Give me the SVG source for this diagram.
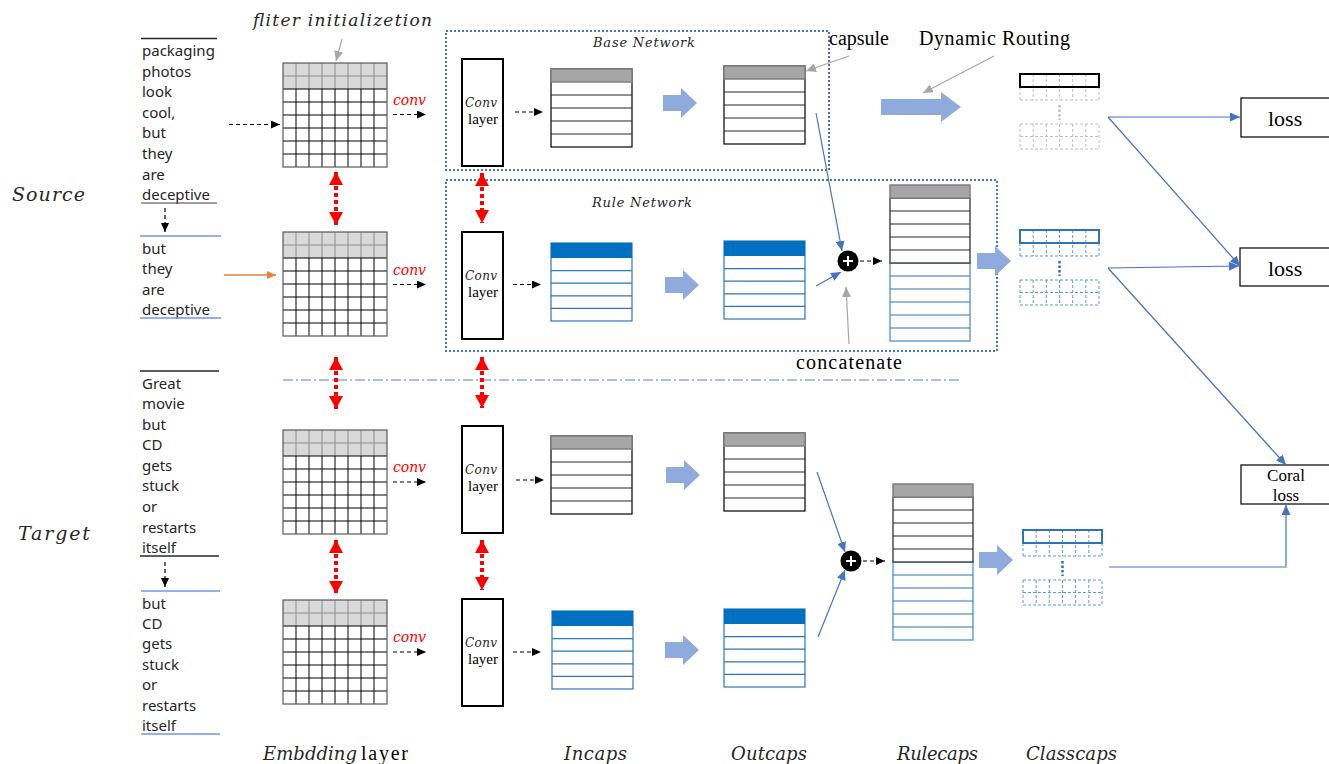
<svg xmlns="http://www.w3.org/2000/svg" width="1329" height="764" viewBox="0 0 1329 764">
<style>
.w{font-family:'Noto Sans','Liberation Sans',sans-serif;font-size:15px;fill:#262626}
.mi{font-family:'DejaVu Serif','Liberation Serif',serif;font-style:italic;fill:#262626}
.sr{font-family:'Liberation Serif','DejaVu Serif',serif;fill:#000}
.cv{font-family:'DejaVu Serif','Liberation Serif',serif;font-style:italic;font-size:14px;fill:#FF0000}
.dash{stroke:#000;stroke-width:1.2;stroke-dasharray:4 3;fill:none}
.red{stroke:#FF0000;stroke-width:4;stroke-dasharray:4 3;fill:none}
.blu{stroke:#4472C4;stroke-width:1.2;fill:none}
.gry{stroke:#A6A6A6;stroke-width:1.2;fill:none}
.box{fill:#fff;stroke:#000;stroke-width:2}
.net{fill:none;stroke:#4472C4;stroke-width:2;stroke-dasharray:2 2}
.fat{fill:#8FAADC}
.ul{stroke:#262626;stroke-width:1.5}
.ub{stroke:#6F97D8;stroke-width:1.5}
</style>
<defs>
<marker id="mK" markerUnits="userSpaceOnUse" markerWidth="9" markerHeight="8" refX="9" refY="4" orient="auto"><path d="M0 0L9 4L0 8Z" fill="#000"/></marker>
<marker id="mB" markerUnits="userSpaceOnUse" markerWidth="10" markerHeight="9" refX="10" refY="4.5" orient="auto"><path d="M0 0L10 4.5L0 9Z" fill="#4472C4"/></marker>
<marker id="mG" markerUnits="userSpaceOnUse" markerWidth="10" markerHeight="9" refX="10" refY="4.5" orient="auto"><path d="M0 0L10 4.5L0 9Z" fill="#A6A6A6"/></marker>
<marker id="mO" markerUnits="userSpaceOnUse" markerWidth="9" markerHeight="8" refX="9" refY="4" orient="auto"><path d="M0 0L9 4L0 8Z" fill="#ED7D31"/></marker>
<marker id="mR" markerUnits="userSpaceOnUse" markerWidth="13" markerHeight="14" refX="13" refY="7" orient="auto-start-reverse"><path d="M0 0L13 7L0 14Z" fill="#FF0000"/></marker>
<g id="grid">
<rect x="0" y="0" width="104" height="26" fill="#D9D9D9"/>
<path d="M0 13H104M13 0V26M26 0V26M39 0V26M52 0V26M65 0V26M78 0V26M91 0V26" stroke="#8C8C8C" fill="none"/>
<path d="M0 26H104M0 39H104M0 52H104M0 65H104M0 78H104M0 91H104M13 26V104M26 26V104M39 26V104M52 26V104M65 26V104M78 26V104M91 26V104" stroke="#000" fill="none"/>
<rect x="0" y="0" width="104" height="104" fill="none" stroke="#595959" stroke-width="1.2"/>
</g>
<g id="capK">
<rect x="0" y="0" width="81" height="78" fill="#fff" stroke="#000" stroke-width="1.2"/>
<rect x="0" y="0" width="81" height="13" fill="#A6A6A6" stroke="#7F7F7F" stroke-width="1.5"/>
<path d="M0 26H81M0 39H81M0 52H81M0 65H81" stroke="#262626" stroke-width="1.2"/>
</g>
<g id="capU">
<rect x="0" y="0" width="81" height="78" fill="#fff" stroke="#2E75B6" stroke-width="1.2"/>
<path d="M0 27.6H81M0 40.2H81M0 52.8H81M0 65.4H81" stroke="#2E75B6" stroke-width="1.2"/>
<rect x="0" y="0" width="81" height="15" fill="#0070C0"/>
</g>
<g id="rule">
<rect x="0" y="78" width="80" height="78" fill="#fff" stroke="#5B9BD5" stroke-width="1.4"/>
<path d="M0 91H80M0 104H80M0 117H80M0 130H80M0 143H80" stroke="#2E75B6" stroke-width="1.2"/>
<rect x="0" y="13" width="80" height="65" fill="#fff" stroke="#404040" stroke-width="1.4"/>
<path d="M0 26H80M0 39H80M0 52H80M0 65H80" stroke="#262626" stroke-width="1.2"/>
<rect x="0" y="0" width="80" height="13" fill="#A6A6A6" stroke="#7F7F7F" stroke-width="1.5"/>
</g>
<g id="clsK">
<path d="M13.17 0V26M26.33 0V26M39.5 0V26M52.67 0V26M65.83 0V26M0 13V26M79 13V26M0 26H79" stroke="#BFBFBF" stroke-dasharray="3 2" fill="none"/>
<rect x="0" y="0" width="79" height="13" fill="none" stroke="#000" stroke-width="2"/>
<path d="M39.5 31V46" stroke="#BFBFBF" stroke-width="2.5" stroke-dasharray="2.5 2"/>
<path d="M0 50H79V75H0ZM0 62.5H79M13.17 50V75M26.33 50V75M39.5 50V75M52.67 50V75M65.83 50V75" stroke="#BFBFBF" stroke-dasharray="3 2" fill="none"/>
</g>
<g id="clsU">
<path d="M13.17 0V26M26.33 0V26M39.5 0V26M52.67 0V26M65.83 0V26M0 13V26M79 13V26M0 26H79" stroke="#5B9BD5" stroke-dasharray="3 2" fill="none"/>
<rect x="0" y="0" width="79" height="13" fill="none" stroke="#2E75B6" stroke-width="2"/>
<path d="M39.5 31V46" stroke="#2E75B6" stroke-width="2.5" stroke-dasharray="2.5 2"/>
<path d="M0 50H79V75H0ZM0 62.5H79M13.17 50V75M26.33 50V75M39.5 50V75M52.67 50V75M65.83 50V75" stroke="#5B9BD5" stroke-dasharray="3 2" fill="none"/>
</g>
<path id="fatS" d="M0 -8H18V-15L34 0L18 15V8H0Z"/>
<g id="plus"><circle r="10.5" fill="#000"/><path d="M-5 0H5M0 -5V5" stroke="#fff" stroke-width="2"/></g>
</defs>
<rect width="1329" height="764" fill="#fff"/>

<!-- networks frames -->
<g id="base-network">
<rect class="net" x="446" y="31" width="383" height="139"/>
<text class="mi" x="593" y="47" font-size="13" textLength="102" lengthAdjust="spacing">Base Network</text>
</g>
<g id="rule-network">
<rect class="net" x="446" y="180" width="551" height="171"/>
<text class="mi" x="592" y="207" font-size="13" textLength="100" lengthAdjust="spacing">Rule Network</text>
</g>
<path d="M283 380H960" stroke="#8FAADC" stroke-width="1.5" stroke-dasharray="10 3 2 3" fill="none"/>

<!-- labels -->
<g id="labels">
<text class="mi" x="253" y="26" font-size="17" textLength="179" lengthAdjust="spacing">fliter initializetion</text>
<text class="mi" x="12" y="201" font-size="19" textLength="73" lengthAdjust="spacing">Source</text>
<text class="mi" x="18" y="540" font-size="19" textLength="72" lengthAdjust="spacing">Target</text>
<text class="sr" x="829" y="45" font-size="20" textLength="60" lengthAdjust="spacing">capsule</text>
<text class="sr" x="919" y="45" font-size="20" textLength="151" lengthAdjust="spacing">Dynamic Routing</text>
<text class="sr" x="796" y="369" font-size="20" textLength="106" lengthAdjust="spacing">concatenate</text>
<text class="mi" x="263" y="760" font-size="18" textLength="94" lengthAdjust="spacing">Embdding</text>
<text class="sr" x="361" y="760" font-size="20" fill="#262626" textLength="47" lengthAdjust="spacing">layer</text>
<text class="mi" x="564" y="760" font-size="18" textLength="63" lengthAdjust="spacing">Incaps</text>
<text class="mi" x="731" y="760" font-size="18" textLength="76" lengthAdjust="spacing">Outcaps</text>
<text class="mi" x="897" y="760" font-size="18" textLength="81" lengthAdjust="spacing">Rulecaps</text>
<text class="mi" x="1026" y="760" font-size="18" textLength="91" lengthAdjust="spacing">Classcaps</text>
</g>

<!-- source sentence -->
<g id="src-sentence">
<line class="ul" x1="141" y1="38.5" x2="217" y2="38.5"/>
<text class="w" x="142" y="56">packaging</text>
<text class="w" x="142" y="77">photos</text>
<text class="w" x="142" y="97">look</text>
<text class="w" x="142" y="118">cool,</text>
<text class="w" x="142" y="138">but</text>
<text class="w" x="142" y="159">they</text>
<text class="w" x="142" y="180">are</text>
<text class="w" x="142" y="200">deceptive</text>
<line x1="141" y1="203" x2="217" y2="203" stroke="#404040" stroke-width="1.2"/>
</g>
<g id="src-rule">
<line class="ub" x1="140" y1="236" x2="221" y2="236"/>
<text class="w" x="142" y="254">but</text>
<text class="w" x="142" y="274">they</text>
<text class="w" x="142" y="295">are</text>
<text class="w" x="142" y="315">deceptive</text>
<line class="ub" x1="140" y1="318" x2="221" y2="318"/>
</g>
<g id="tgt-sentence">
<line class="ul" x1="140" y1="371" x2="219" y2="371"/>
<text class="w" x="142" y="389">Great</text>
<text class="w" x="142" y="409">movie</text>
<text class="w" x="142" y="430">but</text>
<text class="w" x="142" y="450">CD</text>
<text class="w" x="142" y="471">gets</text>
<text class="w" x="142" y="491">stuck</text>
<text class="w" x="142" y="512">or</text>
<text class="w" x="142" y="533">restarts</text>
<text class="w" x="142" y="553">itself</text>
<line class="ul" x1="140" y1="556" x2="219" y2="556"/>
</g>
<g id="tgt-rule">
<line class="ub" x1="141" y1="591" x2="220" y2="591"/>
<text class="w" x="142" y="609">but</text>
<text class="w" x="142" y="629">CD</text>
<text class="w" x="142" y="649">gets</text>
<text class="w" x="142" y="670">stuck</text>
<text class="w" x="142" y="690">or</text>
<text class="w" x="142" y="711">restarts</text>
<text class="w" x="142" y="731">itself</text>
<line class="ub" x1="141" y1="734" x2="220" y2="734"/>
</g>

<!-- embedding grids -->
<g id="emb-1"><use href="#grid" x="283" y="63"/></g>
<g id="emb-2"><use href="#grid" x="283" y="232"/></g>
<g id="emb-3"><use href="#grid" x="283" y="430"/></g>
<g id="emb-4"><use href="#grid" x="283" y="600"/></g>

<!-- conv labels -->
<g id="conv-labels">
<text class="cv" x="393" y="105" textLength="33" lengthAdjust="spacing">conv</text>
<text class="cv" x="393" y="275" textLength="33" lengthAdjust="spacing">conv</text>
<text class="cv" x="393" y="472" textLength="33" lengthAdjust="spacing">conv</text>
<text class="cv" x="393" y="642" textLength="33" lengthAdjust="spacing">conv</text>
</g>

<!-- conv layers -->
<g id="conv-1"><rect class="box" x="462" y="59" width="41" height="107"/><text class="mi" x="465" y="107" font-size="12" fill="#000" textLength="32" lengthAdjust="spacing">Conv</text><text class="sr" x="468" y="124" font-size="15">layer</text></g>
<g id="conv-2"><rect class="box" x="462" y="232" width="41" height="107"/><text class="mi" x="465" y="280" font-size="12" fill="#000" textLength="32" lengthAdjust="spacing">Conv</text><text class="sr" x="468" y="297" font-size="15">layer</text></g>
<g id="conv-3"><rect class="box" x="462" y="426" width="41" height="107"/><text class="mi" x="465" y="474" font-size="12" fill="#000" textLength="32" lengthAdjust="spacing">Conv</text><text class="sr" x="468" y="491" font-size="15">layer</text></g>
<g id="conv-4"><rect class="box" x="462" y="599" width="41" height="107"/><text class="mi" x="465" y="647" font-size="12" fill="#000" textLength="32" lengthAdjust="spacing">Conv</text><text class="sr" x="468" y="664" font-size="15">layer</text></g>

<!-- capsules -->
<g id="incaps-1"><use href="#capK" x="551" y="69"/></g>
<g id="outcaps-1"><use href="#capK" x="724" y="66"/></g>
<g id="incaps-2"><use href="#capU" x="551" y="243"/></g>
<g id="outcaps-2"><use href="#capU" x="724" y="241"/></g>
<g id="incaps-3"><use href="#capK" x="551" y="436"/></g>
<g id="outcaps-3"><use href="#capK" x="724" y="433"/></g>
<g id="incaps-4"><use href="#capU" x="552" y="611"/></g>
<g id="outcaps-4"><use href="#capU" x="724" y="609"/></g>
<g id="rulecaps-1"><use href="#rule" x="890" y="185"/></g>
<g id="rulecaps-2"><use href="#rule" x="893" y="484"/></g>
<g id="plus-1"><use href="#plus" x="848" y="261"/></g>
<g id="plus-2"><use href="#plus" x="851" y="561"/></g>
<g id="classcaps-1"><use href="#clsK" x="1020" y="74"/></g>
<g id="classcaps-2"><use href="#clsU" x="1020" y="230"/></g>
<g id="classcaps-3"><use href="#clsU" x="1023" y="530"/></g>

<!-- loss boxes -->
<g id="loss-1"><rect x="1241" y="98" width="92" height="39" fill="#fff" stroke="#000" stroke-width="1.2"/><text class="sr" x="1268" y="126" font-size="22">loss</text></g>
<g id="loss-2"><rect x="1240" y="248" width="93" height="38" fill="#fff" stroke="#000" stroke-width="1.2"/><text class="sr" x="1268" y="276" font-size="22">loss</text></g>
<g id="coral-loss"><rect x="1241" y="465" width="92" height="39" fill="#fff" stroke="#000" stroke-width="1.2"/><text class="sr" x="1286" y="481" font-size="17" text-anchor="middle">Coral</text><text class="sr" x="1286" y="501" font-size="17" text-anchor="middle">loss</text></g>

<!-- connectors -->
<g id="connectors">
<path class="dash" d="M229 124.5H280" marker-end="url(#mK)"/>
<path d="M224 275H276" stroke="#ED7D31" stroke-width="1.5" fill="none" marker-end="url(#mO)"/>
<path class="dash" d="M165 208V232" marker-end="url(#mK)"/>
<path class="dash" d="M165 562V587" marker-end="url(#mK)"/>
<path class="dash" d="M393 114.5H426" marker-end="url(#mK)"/>
<path class="dash" d="M393 284.5H426" marker-end="url(#mK)"/>
<path class="dash" d="M393 482H426" marker-end="url(#mK)"/>
<path class="dash" d="M393 652H426" marker-end="url(#mK)"/>
<path class="dash" d="M515 112H543" marker-end="url(#mK)"/>
<path class="dash" d="M513 284.5H541" marker-end="url(#mK)"/>
<path class="dash" d="M516 480H544" marker-end="url(#mK)"/>
<path class="dash" d="M513 652H541" marker-end="url(#mK)"/>
<path class="dash" d="M860 261H882" marker-end="url(#mK)"/>
<path class="dash" d="M863 561H885" marker-end="url(#mK)"/>
<path class="red" d="M336 172V225" marker-start="url(#mR)" marker-end="url(#mR)"/>
<path class="red" d="M336 357V409" marker-start="url(#mR)" marker-end="url(#mR)"/>
<path class="red" d="M336 540V594" marker-start="url(#mR)" marker-end="url(#mR)"/>
<path class="red" d="M482 173V223" marker-start="url(#mR)" marker-end="url(#mR)"/>
<path class="red" d="M482 357V408" marker-start="url(#mR)" marker-end="url(#mR)"/>
<path class="red" d="M482 540V590" marker-start="url(#mR)" marker-end="url(#mR)"/>
<use class="fat" href="#fatS" x="663" y="103"/>
<use class="fat" href="#fatS" x="665" y="285"/>
<use class="fat" href="#fatS" x="977" y="261"/>
<use class="fat" href="#fatS" x="666" y="475"/>
<use class="fat" href="#fatS" x="665" y="650"/>
<use class="fat" href="#fatS" x="979" y="560"/>
<path class="fat" d="M881 99H941V92L961 107L941 122V115H881Z"/>
<path class="gry" d="M342 39L336 61" marker-end="url(#mG)"/>
<path class="gry" d="M849 56L806 71" marker-end="url(#mG)"/>
<path class="gry" d="M994 56L923 93" marker-end="url(#mG)"/>
<path class="gry" d="M849 344L846 287" marker-end="url(#mG)"/>
<path class="blu" d="M816 113L842 251" marker-end="url(#mB)"/>
<path class="blu" d="M816 286L841 272" marker-end="url(#mB)"/>
<path class="blu" d="M817 472L845 552" marker-end="url(#mB)"/>
<path class="blu" d="M818 637L845 570" marker-end="url(#mB)"/>
<path class="blu" d="M1108 117H1240" marker-end="url(#mB)"/>
<path class="blu" d="M1108 117L1240 266" marker-end="url(#mB)"/>
<path class="blu" d="M1108 268L1239 266" marker-end="url(#mB)"/>
<path class="blu" d="M1108 268L1286 465" marker-end="url(#mB)"/>
<path class="blu" d="M1109 567H1286V505" marker-end="url(#mB)"/>
</g>
</svg>
